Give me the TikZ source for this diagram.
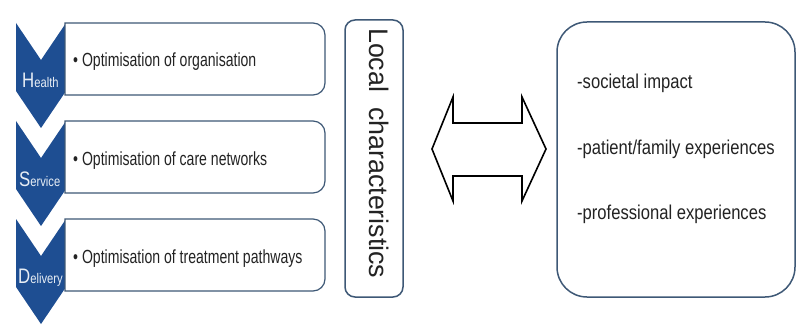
\documentclass[tikz,border=0pt]{standalone}
\usepackage{fontspec}
\setmainfont{Liberation Sans}
\definecolor{chev}{RGB}{30,78,146}
\definecolor{bord}{RGB}{62,88,118}
\definecolor{ltxt}{RGB}{232,238,245}
\definecolor{dtxt}{RGB}{35,35,35}
\tikzset{
  chevshape/.style={fill=chev},
  boxline/.style={draw=bord, line width=1.2pt, fill=white},
  itemtxt/.style={anchor=base west, inner sep=0pt, text=dtxt},
  chevtxt/.style={anchor=base west, inner sep=0pt, text=ltxt},
  bigbox/.style={draw=bord, line width=1.5pt, fill=white},
}
\newcommand{\itemfont}[1]{\scalebox{0.74}[1]{\fontsize{19}{19}\selectfont #1}}
\newcommand{\rightfont}[1]{\scalebox{0.83}[1]{\fontsize{20}{20}\selectfont #1}}
\newcommand{\chevlabel}[2]{\scalebox{0.8}[1]{\fontsize{21}{21}\selectfont #1\fontsize{14}{14}\selectfont #2}}
\begin{document}
\begin{tikzpicture}[x=1pt,y=-1pt]
\useasboundingbox (0,0) rectangle (798,326);
\fill[white] (0,0) rectangle (798,326);
% chevrons
\foreach \t in {23,121,219}{
  \fill[chevshape] (16,\t) -- (41,\t+37) -- (66,\t) -- (66,\t+68) -- (41,\t+105) -- (16,\t+68) -- cycle;
}
% item boxes (right corners rounded)
\foreach \t in {23,121,219}{
  \draw[boxline] (65,\t) -- (313,\t) .. controls (319.6,\t) and (325,\t+5.4) .. (325,\t+12)
     -- (325,\t+60) .. controls (325,\t+66.6) and (319.6,\t+72) .. (313,\t+72) -- (65,\t+72) -- cycle;
}
\node[itemtxt] (i1) at (73,67) {\itemfont{• Optimisation of organisation}};
\node[itemtxt] (i2) at (73,165) {\itemfont{• Optimisation of care networks}};
\node[itemtxt] (i3) at (73,263) {\itemfont{• Optimisation of treatment pathways}};
\node[chevtxt] (c1) at (22,88) {\chevlabel{H}{ealth}};
\node[chevtxt] (c2) at (19,186) {\chevlabel{S}{ervice}};
\node[chevtxt] (c3) at (18,283) {\chevlabel{D}{elivery}};
% local characteristics
\node[bigbox, rounded corners=10pt, minimum width=58pt, minimum height=277pt] (loc) at (374,158.5) {};
\node[rotate=-90, anchor=base west, inner sep=0pt, text=dtxt, font=\fontsize{26.8}{26.8}\selectfont] (lc) at (369,28) {Local\ \ characteristics};
% double arrow
\draw[line width=1.6pt, fill=white, line join=miter] (432,149) -- (453,97) -- (453,123) -- (522,123) -- (522,97) -- (546,149)
   -- (522,201) -- (522,176) -- (453,176) -- (453,201) -- cycle;
% impact box
\node[bigbox, rounded corners=30pt, minimum width=238pt, minimum height=275pt] (imp) at (676,159.5) {};
\node[itemtxt] (r1) at (577,89) {\rightfont{-societal impact}};
\node[itemtxt] (r2) at (577,155) {\rightfont{-patient/family experiences}};
\node[itemtxt] (r3) at (577,219) {\rightfont{-professional experiences}};
\end{tikzpicture}
\end{document}
